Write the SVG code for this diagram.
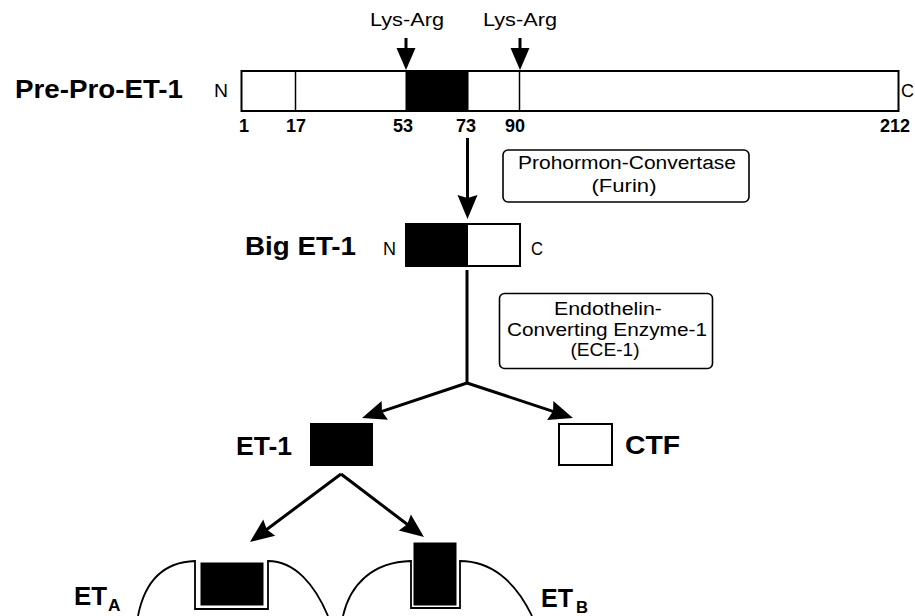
<svg xmlns="http://www.w3.org/2000/svg" width="915" height="616" viewBox="0 0 915 616">
<style>
text{font-family:"Liberation Sans",Arial,Helvetica,sans-serif;fill:#000}
.lbl{font-size:25px;font-weight:bold}
.sm{font-size:18px}
.num{font-size:18px;font-weight:bold}
.sub{font-size:16px;font-weight:bold}
.box{fill:#fff;stroke:#000;stroke-width:2}
.blk{fill:#000;stroke:#000;stroke-width:1}
.thin{stroke:#000;stroke-width:1.5;fill:none}
.enz{fill:#fff;stroke:#000;stroke-width:1.6}
.con{stroke:#000;stroke-width:3;fill:none}
.rec{fill:none;stroke:#000;stroke-width:1.8}
</style>
<defs>
<marker id="ah" viewBox="-16 -12 28 24" refX="0" refY="0" markerWidth="28" markerHeight="24" markerUnits="userSpaceOnUse" orient="auto">
<path d="M10,0 L-14,-10 L-11,0 L-14,10 Z" fill="#000"/>
</marker>
<marker id="ahs" viewBox="-16 -12 26 24" refX="0" refY="0" markerWidth="26" markerHeight="24" markerUnits="userSpaceOnUse" orient="auto">
<path d="M8,0 L-14,-9.5 L-14,9.5 Z" fill="#000"/>
</marker>
</defs>
<rect width="915" height="616" fill="#fff"/>

<g id="prepro">
<text class="lbl" x="15" y="98" textLength="168" lengthAdjust="spacingAndGlyphs">Pre-Pro-ET-1</text>
<text class="sm" x="214" y="97" textLength="14" lengthAdjust="spacingAndGlyphs">N</text>
<rect class="box" x="241.5" y="71" width="657" height="40"/>
<rect class="blk" x="406" y="71.5" width="62" height="39"/>
<line class="thin" x1="295.5" y1="71" x2="295.5" y2="111"/>
<line class="thin" x1="519.5" y1="71" x2="519.5" y2="111"/>
<text class="sm" x="901" y="97">C</text>
<text class="num" x="239" y="132">1</text>
<text class="num" x="286" y="132">17</text>
<text class="num" x="393" y="132">53</text>
<text class="num" x="456" y="132">73</text>
<text class="num" x="505" y="132">90</text>
<text class="num" x="880" y="132">212</text>
</g>

<g id="lysarg1">
<text class="sm" x="407" y="26" text-anchor="middle" textLength="74" lengthAdjust="spacingAndGlyphs">Lys-Arg</text>
</g>
<g id="lysarg2">
<text class="sm" x="520" y="26" text-anchor="middle" textLength="74" lengthAdjust="spacingAndGlyphs">Lys-Arg</text>
</g>

<g id="furin">
<rect class="enz" x="503" y="150" width="246" height="52" rx="5"/>
<text class="sm" x="627" y="169" text-anchor="middle" textLength="218" lengthAdjust="spacingAndGlyphs">Prohormon-Convertase</text>
<text class="sm" x="624" y="191.5" text-anchor="middle" textLength="65" lengthAdjust="spacingAndGlyphs">(Furin)</text>
</g>

<g id="bigET1">
<text class="lbl" x="245" y="255" textLength="111" lengthAdjust="spacingAndGlyphs">Big ET-1</text>
<text class="sm" x="383" y="255" textLength="13" lengthAdjust="spacingAndGlyphs">N</text>
<rect class="box" x="406" y="224" width="114" height="42"/>
<rect class="blk" x="406.5" y="224.5" width="61" height="41"/>
<text class="sm" x="531" y="255" textLength="12" lengthAdjust="spacingAndGlyphs">C</text>
</g>

<g id="ece1">
<rect class="enz" x="499.5" y="293.5" width="213" height="75" rx="5"/>
<text class="sm" x="608" y="315" text-anchor="middle" textLength="108" lengthAdjust="spacingAndGlyphs">Endothelin-</text>
<text class="sm" x="607" y="335.5" text-anchor="middle" textLength="200" lengthAdjust="spacingAndGlyphs">Converting Enzyme-1</text>
<text class="sm" x="605" y="356" text-anchor="middle" textLength="69" lengthAdjust="spacingAndGlyphs">(ECE-1)</text>
</g>

<g id="et1">
<text class="lbl" x="236" y="455" font-size="26" textLength="56" lengthAdjust="spacingAndGlyphs">ET-1</text>
<rect class="blk" x="310.5" y="423.5" width="62" height="42"/>
</g>

<g id="ctf">
<rect class="box" x="559" y="424" width="53" height="41"/>
<text class="lbl" x="625" y="454" font-size="27" textLength="55" lengthAdjust="spacingAndGlyphs">CTF</text>
</g>

<g id="etA">
<text class="lbl" x="74" y="605" textLength="33" lengthAdjust="spacingAndGlyphs">ET</text>
<text class="sub" x="108" y="611" textLength="12.5" lengthAdjust="spacingAndGlyphs">A</text>
<path class="rec" d="M138,616 C145,580 165,562 195,561 L195,609 L268,609 L268,561 C295,561 315,585 328,616"/>
<rect class="blk" x="201" y="563" width="62" height="42"/>
</g>

<g id="etB">
<text class="lbl" x="541" y="607" textLength="32" lengthAdjust="spacingAndGlyphs">ET</text>
<text class="sub" x="576" y="613" textLength="12" lengthAdjust="spacingAndGlyphs">B</text>
<path class="rec" d="M343,616 C350,585 372,562 411,561 L411,608 L460,608 L460,561 C490,561 515,580 532,616"/>
<rect class="blk" x="414" y="543" width="42" height="62"/>
</g>

<g id="connectors">
<line class="con" stroke-width="2.5" x1="406" y1="38" x2="406" y2="62" marker-end="url(#ahs)"/>
<line class="con" stroke-width="2.5" x1="520" y1="38" x2="520" y2="62" marker-end="url(#ahs)"/>
<line class="con" stroke-width="2.5" x1="467.5" y1="138" x2="467.5" y2="209" marker-end="url(#ah)"/>
<line class="con" x1="467" y1="270" x2="467" y2="383"/>
<line class="con" x1="467" y1="383" x2="371.5" y2="414.8" marker-end="url(#ah)"/>
<line class="con" x1="467" y1="383" x2="563.5" y2="414.8" marker-end="url(#ah)"/>
<line class="con" x1="341" y1="474" x2="258" y2="536" marker-end="url(#ah)"/>
<line class="con" x1="341" y1="474" x2="416" y2="531" marker-end="url(#ah)"/>
</g>
</svg>
